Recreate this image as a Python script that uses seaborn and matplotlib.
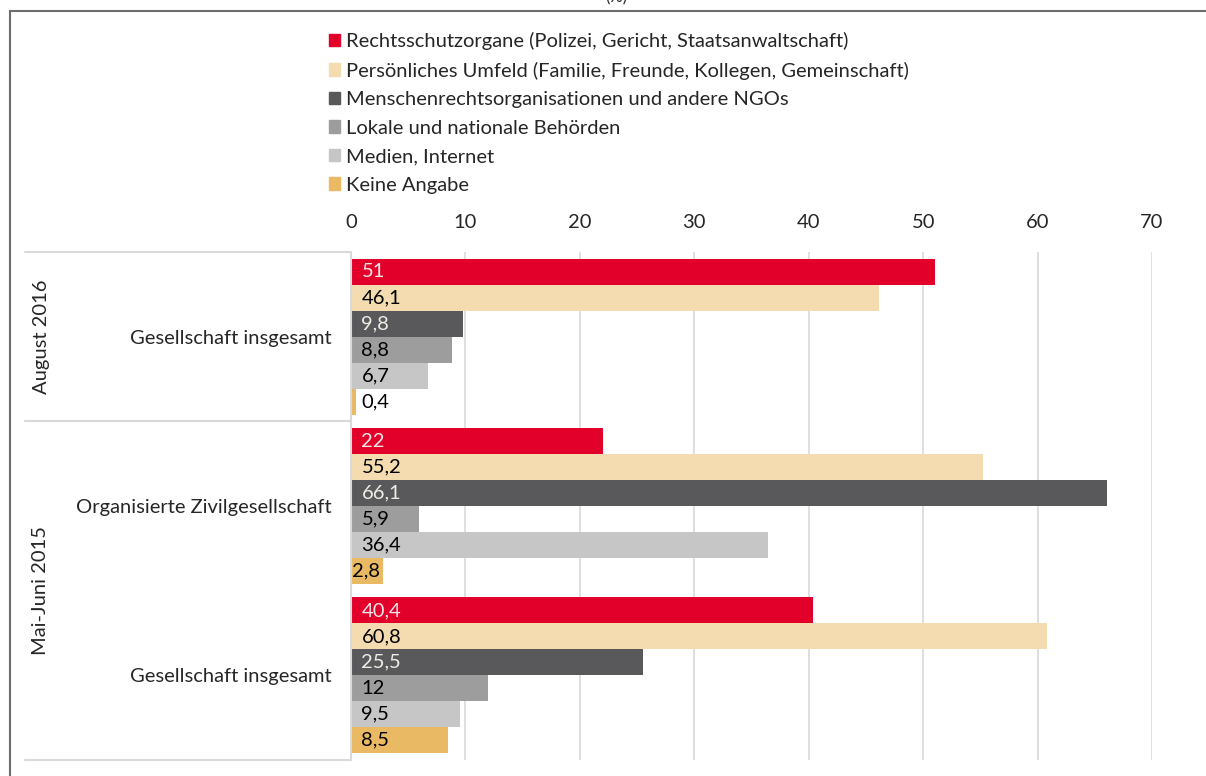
import numpy as np
import pandas as pd
import matplotlib
matplotlib.use('Agg')
import matplotlib.pyplot as plt
import matplotlib.patches as mpatches
import matplotlib.lines as mlines
import seaborn as sns

# data
kategorien = ['Aug16_gesamt', 'MJ15_zivil', 'MJ15_gesamt']
kat_labels = ['Gesellschaft insgesamt', 'Organisierte Zivilgesellschaft', 'Gesellschaft insgesamt']
gruppen = ['August 2016', 'Mai-Juni 2015']
serien = ['Rechtsschutzorgane (Polizei, Gericht, Staatsanwaltschaft)',
          'Persönliches Umfeld (Familie, Freunde, Kollegen, Gemeinschaft)',
          'Menschenrechtsorganisationen und andere NGOs',
          'Lokale und nationale Behörden',
          'Medien, Internet',
          'Keine Angabe']
rechts = [51, 22, 40.4]
umfeld = [46.1, 55.2, 60.8]
ngos = [9.8, 66.1, 25.5]
behoerden = [8.8, 5.9, 12]
medien = [6.7, 36.4, 9.5]
keine = [0.4, 2.8, 8.5]
ticks = [0, 10, 20, 30, 40, 50, 60, 70]

farben = ['#E2002B', '#F4DCB0', '#59595B', '#9D9D9D', '#C6C6C6', '#E9B963']
textfarben = ['#F7E6E6', 'black', '#EDEDE6', 'black', 'black', 'black']

werte = [rechts, umfeld, ngos, behoerden, medien, keine]
rows = []
for s, w in zip(serien, werte):
    for k, v in zip(kategorien, w):
        rows.append({'kat': k, 'serie': s, 'wert': v})
df = pd.DataFrame(rows)

sns.set_style('white')
plt.rcParams['font.family'] = ['Lato', 'DejaVu Sans']
fs = 14.5

fig = plt.figure(figsize=(12.06, 7.76), dpi=100)
W, H = 1206, 776
x0, x1 = 351, 1152
y0, y1 = 252, 760
ax = fig.add_axes([x0 / W, 1 - y1 / H, (x1 - x0) / W, (y1 - y0) / H])

sns.barplot(data=df, x='wert', y='kat', hue='serie', order=kategorien, hue_order=serien,
            palette=farben, orient='h', width=0.92, gap=0, saturation=1,
            edgecolor='none', linewidth=0, legend=False, ax=ax)

ax.set_xlim(0, 70)
ax.set_ylim(2.5, -0.5)
ax.set_xticks(ticks)
ax.xaxis.tick_top()
ax.tick_params(axis='x', length=0, pad=15, labelsize=fs)
ax.set_xlabel('')
ax.set_ylabel('')
ax.set_yticks(range(3))
ax.set_yticklabels(kat_labels, fontsize=fs)
ax.tick_params(axis='y', length=0, pad=14)
ax.grid(axis='x', color='#D9D9D9', lw=1.2)
ax.set_axisbelow(True)
for sp in ['top', 'right', 'bottom']:
    ax.spines[sp].set_visible(False)
ax.spines['left'].set_color('#D9D9D9')
ax.spines['left'].set_linewidth(1.5)

# value labels at bar base
for i, cont in enumerate(ax.containers):
    for p, v in zip(cont.patches, werte[i]):
        txt = str(v).replace('.', ',')
        off = 1 if v == 2.8 else 7.5
        ax.annotate(txt, (0, p.get_y() + p.get_height() / 2), xytext=(off, 0),
                    textcoords='offset points', va='center', ha='left',
                    fontsize=fs, color=textfarben[i])

# separator lines left of axis
trans = matplotlib.transforms.blended_transform_factory(ax.transAxes, ax.transData)
xl = (25 - x0) / (x1 - x0)
for yy in [-0.5, 0.5, 2.5]:
    ax.plot([xl, 0], [yy, yy], color='#D9D9D9', lw=1.5, transform=trans, clip_on=False)

# group labels
ax.text((41 - x0) / (x1 - x0), 0, gruppen[0], rotation=90, transform=trans,
        ha='center', va='center', fontsize=fs)
ax.text((41 - x0) / (x1 - x0), 1.5, gruppen[1], rotation=90, transform=trans,
        ha='center', va='center', fontsize=fs)

# legend
handles = [mpatches.Patch(color=c, label=s) for c, s in zip(farben, serien)]
fig.legend(handles=handles, loc='upper left', bbox_to_anchor=(319 / W, 1 - 22 / H),
           frameon=False, fontsize=fs, handlelength=0.55, handleheight=0.55,
           handletextpad=0.3, labelspacing=0.57, borderpad=0)

# frame and cut-off title
fig.add_artist(mlines.Line2D([9.5 / W, 1], [1 - 10.5 / H, 1 - 10.5 / H], color='#6D6D6D', lw=1.5))
fig.add_artist(mlines.Line2D([9.5 / W, 9.5 / W], [0, 1 - 10.5 / H], color='#6D6D6D', lw=1.5))
fig.text(616 / W, 1 + 3 / H, '(%)', ha='center', va='center', fontsize=12)

fig.savefig('out.png', dpi=100)
